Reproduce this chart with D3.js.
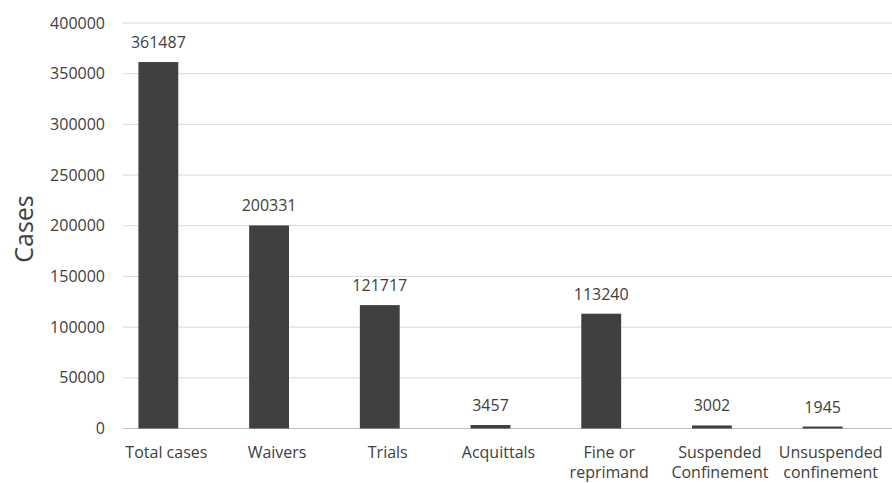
<!DOCTYPE html>
<html>
<head>
<meta charset="utf-8">
<script src="https://cdn.jsdelivr.net/npm/d3@7"></script>
<style>
  body { margin: 0; background: #fff; }
  text { font-family: "Open Sans", "Liberation Sans", sans-serif; fill: #404040; }
</style>
</head>
<body>
<div id="chart"></div>
<script>
const categories = [
  ['Total cases'],
  ['Waivers'],
  ['Trials'],
  ['Acquittals'],
  ['Fine or', 'reprimand'],
  ['Suspended', 'Confinement'],
  ['Unsuspended', 'confinement']
];
const values = [361487, 200331, 121717, 3457, 113240, 3002, 1945];
const yTicks = [0, 50000, 100000, 150000, 200000, 250000, 300000, 350000, 400000];

const w = 892;
const h = 483;

const svg = d3.select('#chart')
  .append('svg')
  .attr('width', w)
  .attr('height', h);

const yScale = d3.scaleLinear()
  .domain([0, 400000])
  .range([428.5, 23]);

const xScale = d3.scaleBand()
  .domain(d3.range(categories.length))
  .range([103, 878])
  .paddingInner(0.64)
  .paddingOuter(0.32);

// gridlines
svg.append('g')
  .selectAll('line')
  .data(yTicks)
  .enter()
  .append('line')
  .attr('x1', 123)
  .attr('x2', w)
  .attr('y1', (d) => yScale(d))
  .attr('y2', (d) => yScale(d))
  .attr('stroke', d => d === 0 ? '#bfbfbf' : '#d9d9d9')
  .attr('stroke-width', 1);

// y axis labels
const yAxis = d3.axisLeft(yScale)
  .tickValues(yTicks)
  .tickFormat(d3.format('d'))
  .tickSize(0)
  .tickPadding(0);
const gy = svg.append('g')
  .attr('transform', 'translate(105,0)')
  .call(yAxis);
gy.select('.domain').remove();
gy.selectAll('text')
  .style('font-size', '16px')
  .style('fill', '#404040')
  .style('font-family', '"Open Sans", sans-serif');

// bars
svg.append('g')
  .selectAll('rect')
  .data(values)
  .enter()
  .append('rect')
  .attr('x', (d, i) => xScale(i))
  .attr('width', xScale.bandwidth())
  .attr('y', (d) => yScale(d))
  .attr('height', (d) => yScale(0) - yScale(d))
  .attr('fill', '#404040');

// value labels
svg.append('g')
  .selectAll('text')
  .data(values)
  .enter()
  .append('text')
  .attr('x', (d, i) => xScale(i) + xScale.bandwidth() / 2)
  .attr('y', (d) => yScale(d) - 14)
  .attr('text-anchor', 'middle')
  .style('font-size', '16px')
  .text((d) => d);

// x category labels (sit a little right of the bar centre, like the original)
const xl = svg.append('g')
  .attr('transform', 'translate(8,0)')
  .selectAll('text')
  .data(categories)
  .enter()
  .append('text')
  .attr('x', (d, i) => xScale(i) + xScale.bandwidth() / 2)
  .attr('y', 458)
  .attr('text-anchor', 'middle')
  .style('font-size', '16px');
xl.selectAll('tspan')
  .data((d) => d)
  .enter()
  .append('tspan')
  .attr('x', function () { return this.parentNode.getAttribute('x'); })
  .attr('dy', (d, i) => i === 0 ? 0 : 20)
  .text((d) => d);

// y title
svg.append('text')
  .attr('transform', 'translate(33,229) rotate(-90)')
  .attr('text-anchor', 'middle')
  .style('font-size', '25px')
  .text('Cases');
</script>
</body>
</html>
